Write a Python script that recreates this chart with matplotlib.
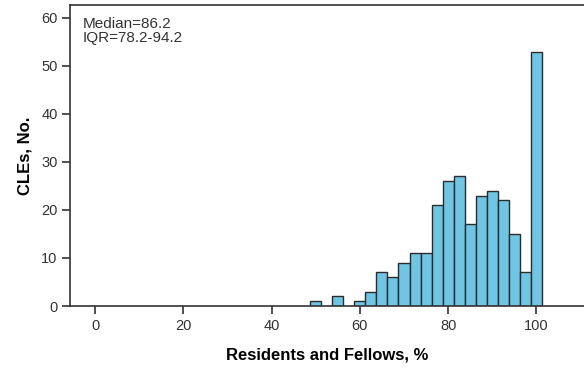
import numpy as np
import matplotlib.pyplot as plt

plt.rcParams["font.family"] = ["Liberation Sans", "DejaVu Sans"]

# histogram bins (centres, width 2.5) and counts
bin_centres = [50, 52.5, 55, 57.5, 60, 62.5, 65, 67.5, 70, 72.5, 75,
               77.5, 80, 82.5, 85, 87.5, 90, 92.5, 95, 97.5, 100]
counts = [1, 0, 2, 0, 1, 3, 7, 6, 9, 11, 11,
          21, 26, 27, 17, 23, 24, 22, 15, 7, 53]
x_ticks = [0, 20, 40, 60, 80, 100]
y_ticks = [0, 10, 20, 30, 40, 50, 60]
stats_text = "Median=86.2\nIQR=78.2-94.2"

fig = plt.figure(figsize=(5.84, 3.69), dpi=100)
ax = fig.add_axes([70 / 584, (369 - 306) / 369, 1 - 70 / 584, (306 - 5) / 369])

heights = np.array(counts)
centres = np.array(bin_centres)
mask = heights > 0
ax.bar(centres[mask], heights[mask], width=2.5, color="#6EC6E4",
       edgecolor="#2b2b2b", linewidth=1.0)

ax.set_xlim(-5.7, 110.8)
ax.set_ylim(0, 62.7)
ax.set_xticks(x_ticks)
ax.set_yticks(y_ticks)
ax.tick_params(direction="out", length=6, width=1.2, color="#333333",
               labelsize=10.5, labelcolor="#333333", pad=3)

for side in ["left", "bottom", "top"]:
    ax.spines[side].set_color("#333333")
    ax.spines[side].set_linewidth(1.2)
ax.spines["right"].set_visible(False)

ax.set_xlabel("Residents and Fellows, %", fontsize=12, fontweight="bold",
              labelpad=11)
ax.set_ylabel("CLEs, No.", fontsize=12, fontweight="bold", labelpad=6)

ax.text(0.025, 0.96, stats_text, transform=ax.transAxes, ha="left", va="top",
        fontsize=11, color="#333333", linespacing=1.0)

fig.savefig("out.png", dpi=100)
